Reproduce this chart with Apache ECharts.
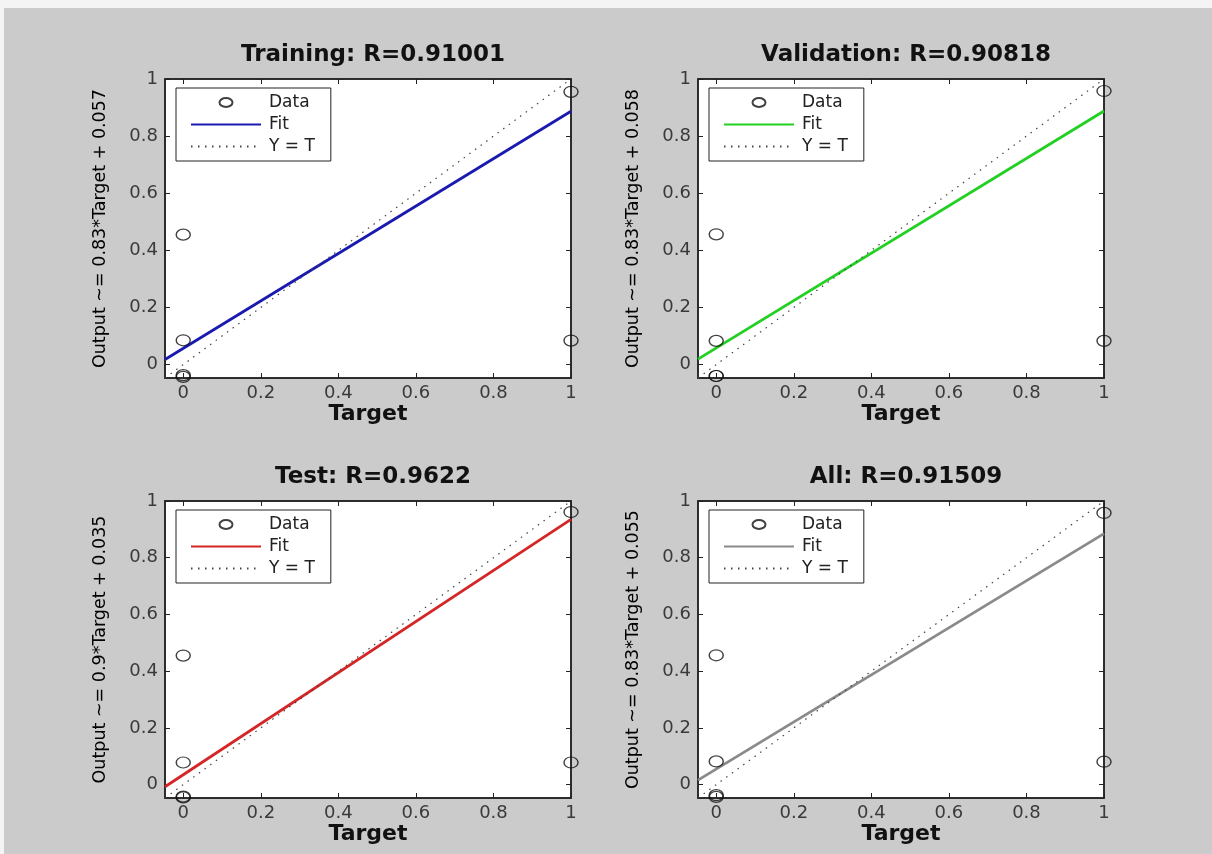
<!DOCTYPE html>
<html><head><meta charset="utf-8">
<script src="https://cdn.jsdelivr.net/npm/echarts@6/dist/echarts.min.js"></script>
<style>
html,body{margin:0;padding:0;background:#f4f4f4;}
#bg{position:absolute;left:4px;top:8px;width:1208px;height:846px;background:#cbcbcb;}
#c{position:absolute;left:0;top:0;width:1212px;height:854px;}
</style>
</head><body><div id="bg"></div><div id="c"></div>
<script>
// ---- data ----
const panelTitles = ['Training: R=0.91001', 'Validation: R=0.90818', 'Test: R=0.9622', 'All: R=0.91509'];
const yAxisNames = ['Output ~= 0.83*Target + 0.057', 'Output ~= 0.83*Target + 0.058', 'Output ~= 0.9*Target + 0.035', 'Output ~= 0.83*Target + 0.055'];
const fitSlopes = [0.83, 0.83, 0.9, 0.83];
const fitIntercepts = [0.057, 0.058, 0.035, 0.055];
const dataTargets = [0, 0, 0, 0, 1, 1];
const trainingOutputs = [0.455, 0.085, -0.037, -0.043, 0.955, 0.084];
const validationOutputs = [0.456, 0.083, -0.040, -0.040, 0.958, 0.083];
const testOutputs = [0.455, 0.078, -0.042, -0.045, 0.961, 0.078];
const allOutputs = [0.456, 0.082, -0.037, -0.043, 0.958, 0.081];
const axisLimits = [-0.047, 1];
const tickValues = [0, 0.2, 0.4, 0.6, 0.8, 1];
const legendNames = ['Data', 'Fit', 'Y = T'];

// ---- styling ----
const outputs = [trainingOutputs, validationOutputs, testOutputs, allOutputs];
const fitColors = ['#1a1ab0', '#22d022', '#d42626', '#8a8a8a'];
const grids = [
  {left: 165, top: 79, width: 406, height: 299},
  {left: 698, top: 79, width: 406, height: 299},
  {left: 165, top: 501, width: 406, height: 297},
  {left: 698, top: 501, width: 406, height: 297}
];
const FONT = 'DejaVu Sans';
const ellipse = 'path://M0,5A5,5,0,1,1,10,5A5,5,0,1,1,0,5Z';
const ellipseIcon = 'path://M0,0M70,12M28.5,6A6.5,4.5,0,1,1,41.5,6A6.5,4.5,0,1,1,28.5,6Z';

const option = {
  animation: false,
  backgroundColor: 'transparent',
  title: [], grid: [], xAxis: [], yAxis: [], legend: [], series: []
};

grids.forEach((g, i) => {
  option.grid.push(Object.assign({show: true, backgroundColor: '#ffffff', borderColor: '#222', borderWidth: 1.5, containLabel: false}, g));
  option.title.push({
    text: panelTitles[i], left: g.left + g.width / 2, top: g.top - 40, textAlign: 'center',
    textStyle: {fontFamily: FONT, fontWeight: 'bold', fontSize: 23, color: '#111'}
  });
  const axisCommon = {
    type: 'value', gridIndex: i, min: axisLimits[0], max: axisLimits[1],
    splitLine: {show: false},
    axisLine: {show: true, onZero: false, lineStyle: {color: '#222', width: 1.5}},
    axisTick: {show: true, inside: true, length: 5, customValues: tickValues, lineStyle: {color: '#222', width: 1}}
  };
  option.xAxis.push(Object.assign({}, axisCommon, {
    position: 'bottom',
    axisLabel: {customValues: tickValues, margin: 6, fontSize: 18, fontFamily: FONT, color: '#3a3a3a'},
    name: 'Target', nameLocation: 'middle', nameGap: 25,
    nameTextStyle: {fontFamily: FONT, fontWeight: 'bold', fontSize: 22, color: '#111'}
  }));
  option.xAxis.push(Object.assign({}, axisCommon, {position: 'top', axisLabel: {show: false}}));
  option.yAxis.push(Object.assign({}, axisCommon, {
    position: 'left',
    axisLabel: {customValues: tickValues, margin: 7, fontSize: 18, fontFamily: FONT, color: '#3a3a3a'},
    name: yAxisNames[i], nameLocation: 'middle', nameGap: 56,
    nameTextStyle: {fontFamily: FONT, fontSize: 17.5, color: '#000'}
  }));
  option.yAxis.push(Object.assign({}, axisCommon, {position: 'right', axisLabel: {show: false}}));

  const sfx = '|' + i;
  const lo = axisLimits[0], hi = axisLimits[1];
  option.series.push({
    name: legendNames[0] + sfx, type: 'scatter', xAxisIndex: i * 2, yAxisIndex: i * 2,
    data: dataTargets.map((t, k) => [t, outputs[i][k]]),
    symbol: ellipse, symbolSize: [14, 11], clip: false, z: 5,
    itemStyle: {color: 'rgba(0,0,0,0)', borderColor: '#111', borderWidth: 1.3}
  });
  option.series.push({
    name: legendNames[1] + sfx, type: 'line', xAxisIndex: i * 2, yAxisIndex: i * 2,
    data: [[lo, fitSlopes[i] * lo + fitIntercepts[i]], [hi, fitSlopes[i] * hi + fitIntercepts[i]]],
    symbol: 'none', z: 3, color: fitColors[i],
    lineStyle: {color: fitColors[i], width: 2.8}
  });
  option.series.push({
    name: legendNames[2] + sfx, type: 'line', xAxisIndex: i * 2, yAxisIndex: i * 2,
    data: [[lo, lo], [hi, hi]],
    symbol: 'none', z: 4, color: '#444',
    lineStyle: {color: '#444', width: 1.2, type: [1.5, 5.5]}
  });
  option.legend.push({
    orient: 'vertical', left: g.left + 11, top: g.top + 9,
    itemWidth: 70, itemHeight: 12, itemGap: 5,
    padding: [6, 16, 6, 14],
    backgroundColor: '#fff', borderColor: '#222', borderWidth: 1,
    selectedMode: false,
    data: [
      {name: legendNames[0] + sfx, icon: ellipseIcon},
      {name: legendNames[1] + sfx, itemStyle: {opacity: 0}},
      {name: legendNames[2] + sfx, itemStyle: {opacity: 0}}
    ],
    formatter: n => n.split('|')[0],
    textStyle: {fontFamily: FONT, fontSize: 17, color: '#222', padding: [0, 0, 0, 3]}
  });
});

const chart = echarts.init(document.getElementById('c'), null, {renderer: 'canvas'});
chart.setOption(option);
</script>
</body></html>
